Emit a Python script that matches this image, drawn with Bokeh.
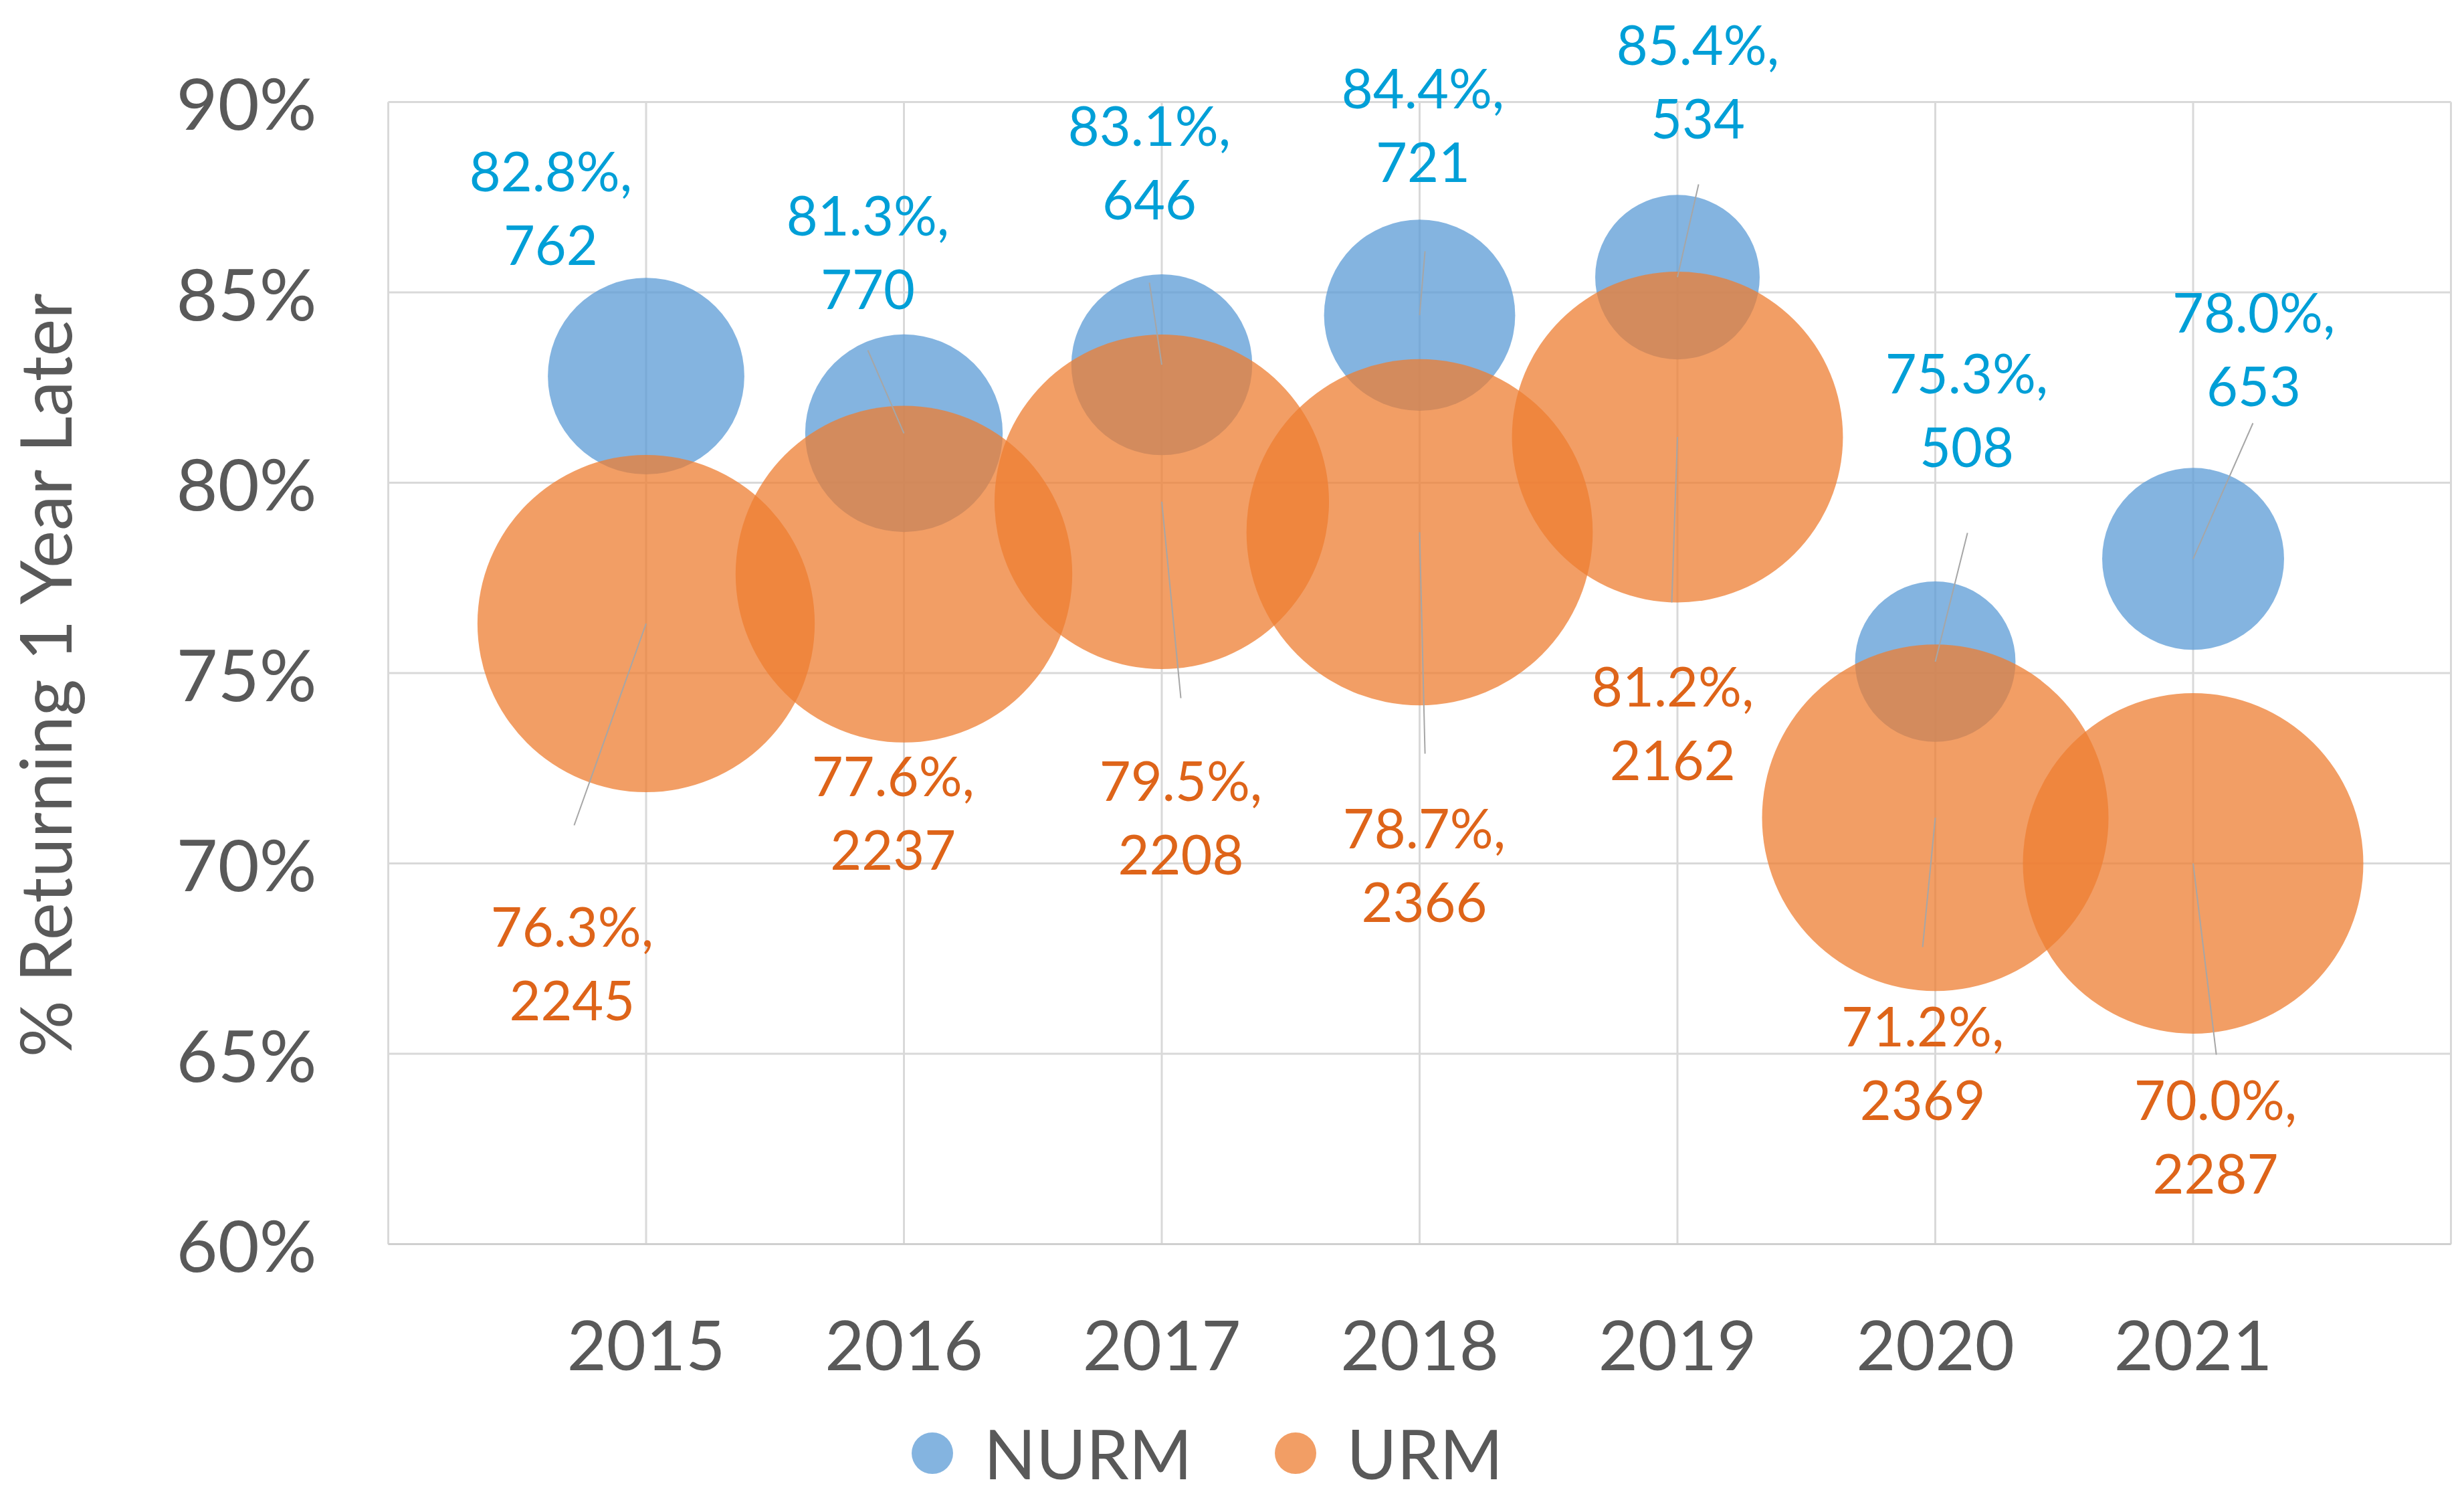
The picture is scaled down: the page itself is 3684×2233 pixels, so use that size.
import math
from bokeh.plotting import figure
from bokeh.models import Range1d, FixedTicker, Legend, LegendItem, ColumnDataSource, Label
from bokeh.embed import file_html
from bokeh.resources import INLINE
from bokeh.core.properties import value

# ---------------- data ----------------
years = [2015, 2016, 2017, 2018, 2019, 2020, 2021]
nurm_pct = [82.8, 81.3, 83.1, 84.4, 85.4, 75.3, 78.0]
nurm_n = [762, 770, 646, 721, 534, 508, 653]
urm_pct = [76.3, 77.6, 79.5, 78.7, 81.2, 71.2, 70.0]
urm_n = [2245, 2237, 2208, 2366, 2162, 2369, 2287]
series_names = ["NURM", "URM"]
y_ticks = [60, 65, 70, 75, 80, 85, 90]
y_tick_labels = ["60%", "65%", "70%", "75%", "80%", "85%", "90%"]
x_tick_labels = ["2015", "2016", "2017", "2018", "2019", "2020", "2021"]
y_axis_title = "% Returning 1 Year Later"

# ---------------- layout (label placement offsets, in data units) ----------------
nurm_lab_dx = [-0.370, -0.140, -0.048, 0.013, 0.079, 0.122, 0.235]
nurm_lab_dy = [4.441, 4.781, 5.336, 5.020, 5.160, 6.633, 5.533]
urm_lab_dx = [-0.287, -0.042, 0.074, 0.018, -0.019, -0.049, 0.087]
urm_lab_dy = [-8.901, -6.247, -8.270, -8.718, -7.492, -6.420, -7.153]
# leader line ends relative to the bubble centre (None = no leader)
nurm_lead = [None, (-0.140, 2.180), (-0.048, 2.155), (0.021, 1.681), (0.082, 2.438), (0.125, 3.382), (0.232, 3.564)]
urm_lead = [(-0.279, -5.298), None, (0.074, -5.159), (0.021, -5.818), (-0.022, -4.346), (-0.049, -3.397), (0.090, -5.026)]

W, H = 3684, 2233
X_LEFT_PX, X_RIGHT_PX = 580, 3664      # screen columns of the plot-area edges
Y_TOP_PX, Y_BOT_PX = 152, 1859          # screen rows of the 90% and 60% lines
X_MIN, X_MAX = years[0] - 1, years[-1] + 1
PX_PER_YEAR = (X_RIGHT_PX - X_LEFT_PX) / (X_MAX - X_MIN)
PX_PER_PT = (Y_BOT_PX - Y_TOP_PX) / (y_ticks[-1] - y_ticks[0])
BUBBLE_MAX_PX = 518

BLUE = "#5B9BD5"
ORANGE = "#ED7D31"
BLUE_TXT = "#009FD7"
ORANGE_TXT = "#DE6419"
GRAY_TXT = "#595959"
GRID = "#D9D9D9"
FONT = "Lato"

p = figure(width=W, height=H, output_backend="svg", toolbar_location=None,
           x_range=Range1d(X_MIN - X_LEFT_PX / PX_PER_YEAR, X_MAX + (W - X_RIGHT_PX) / PX_PER_YEAR),
           y_range=Range1d(y_ticks[0] - (H - Y_BOT_PX) / PX_PER_PT, y_ticks[-1] + Y_TOP_PX / PX_PER_PT),
           min_border_left=0, min_border_right=0, min_border_top=0, min_border_bottom=0)
p.outline_line_color = None
p.background_fill_color = "white"
p.border_fill_color = "white"

# grid lines, restricted to the plot area (2014..2022 x 60..90)
p.xgrid.visible = False
p.ygrid.visible = False
grid_years = list(range(X_MIN, X_MAX + 1))
p.segment(x0=grid_years, x1=grid_years, y0=[y_ticks[0]] * len(grid_years),
          y1=[y_ticks[-1]] * len(grid_years), line_color=GRID, line_width=3)
p.segment(x0=[X_MIN] * len(y_ticks), x1=[X_MAX] * len(y_ticks), y0=y_ticks, y1=y_ticks,
          line_color=GRID, line_width=3)

# y axis, pinned at the left edge of the plot area
p.yaxis.fixed_location = X_MIN
p.yaxis.bounds = (y_ticks[0], y_ticks[-1])
p.yaxis.ticker = FixedTicker(ticks=y_ticks)
p.yaxis.major_label_overrides = {t: l for t, l in zip(y_ticks, y_tick_labels)}
p.yaxis.axis_line_color = None
p.yaxis.major_tick_line_color = None
p.yaxis.minor_tick_line_color = None
p.yaxis.major_tick_out = 0
p.yaxis.major_label_standoff = 107
p.yaxis.major_label_text_font = FONT
p.yaxis.major_label_text_font_size = "107px"
p.yaxis.major_label_text_color = GRAY_TXT

# y axis title
p.add_layout(Label(x=X_MIN - 515 / PX_PER_YEAR, y=(y_ticks[0] + y_ticks[-1]) / 2,
                   text=y_axis_title, angle=math.pi / 2, text_align="center",
                   text_baseline="alphabetic", text_font=FONT, text_font_size="106px",
                   text_color=GRAY_TXT))

# x axis, pinned at the 60% line
p.xaxis.fixed_location = y_ticks[0]
p.xaxis.bounds = (X_MIN, X_MAX)
p.xaxis.ticker = FixedTicker(ticks=years)
p.xaxis.major_label_overrides = {y: l for y, l in zip(years, x_tick_labels)}
p.xaxis.axis_line_color = "#CFCFCF"
p.xaxis.axis_line_width = 3
p.xaxis.major_tick_line_color = None
p.xaxis.minor_tick_line_color = None
p.xaxis.major_tick_out = 0
p.xaxis.major_label_standoff = 114
p.xaxis.major_label_text_font = FONT
p.xaxis.major_label_text_font_size = "102px"
p.xaxis.major_label_text_color = GRAY_TXT

# bubbles (area proportional to count)
n_max = max(nurm_n + urm_n)
def sizes(ns):
    return [BUBBLE_MAX_PX * math.sqrt(n / n_max) for n in ns]

src_n = ColumnDataSource(dict(x=years, y=nurm_pct, s=sizes(nurm_n)))
src_u = ColumnDataSource(dict(x=years, y=urm_pct, s=sizes(urm_n)))
r_n = p.scatter("x", "y", size="s", source=src_n, fill_color=BLUE, fill_alpha=0.75, line_color=None)
r_u = p.scatter("x", "y", size="s", source=src_u, fill_color=ORANGE, fill_alpha=0.75, line_color=None)

# leader lines
lx0, ly0, lx1, ly1 = [], [], [], []
for xs, ys, leads in ((years, nurm_pct, nurm_lead), (years, urm_pct, urm_lead)):
    for x, y, ld in zip(xs, ys, leads):
        if ld is None:
            continue
        lx0.append(x); ly0.append(y); lx1.append(x + ld[0]); ly1.append(y + ld[1])
p.segment(x0=lx0, y0=ly0, x1=lx1, y1=ly1, line_color="#A6A6A6", line_width=2)

# data labels
def labels(pcts, ns):
    return [f"{v:.1f}%,\n{n}" for v, n in zip(pcts, ns)]

for pcts, ns, dxs, dys, col in ((nurm_pct, nurm_n, nurm_lab_dx, nurm_lab_dy, BLUE_TXT),
                                (urm_pct, urm_n, urm_lab_dx, urm_lab_dy, ORANGE_TXT)):
    p.text(x=[x + d for x, d in zip(years, dxs)], y=[v + d for v, d in zip(pcts, dys)],
           text=labels(pcts, ns), text_font=value(FONT), text_font_size="81px",
           text_color=col, text_align="center", text_baseline="middle",
           text_line_height=1.13)

# legend (inside the frame, below the axis labels)
legend = Legend(items=[LegendItem(label=series_names[0], renderers=[r_n]),
                       LegendItem(label=series_names[1], renderers=[r_u])],
                orientation="horizontal", location=(1316, -16),
                glyph_width=155, glyph_height=155, label_standoff=0, spacing=76,
                padding=0, margin=0, border_line_color=None, background_fill_alpha=0,
                label_text_font=FONT, label_text_font_size="102px", label_text_color=GRAY_TXT)
p.add_layout(legend, "center")

open("out.html", "w").write(file_html(p, INLINE))
